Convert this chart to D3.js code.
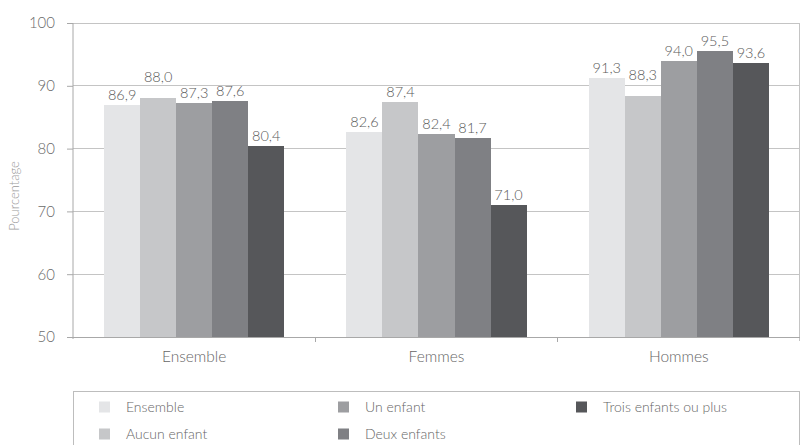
<!DOCTYPE html>
<html lang="fr">
<head>
<meta charset="utf-8">
<script src="https://cdn.jsdelivr.net/npm/d3@7"></script>
<style>
  html, body { margin: 0; padding: 0; background: #fff; }
  svg { display: block; font-family: Lato, "Open Sans", sans-serif; font-weight: 300; }
</style>
</head>
<body>
<svg id="chart" width="801" height="445"></svg>
<script>
// Catégories (groupes) et séries
const categories = ["Ensemble", "Femmes", "Hommes"];
const seriesNames = ["Ensemble", "Aucun enfant", "Un enfant", "Deux enfants", "Trois enfants ou plus"];

// Valeurs par série, dans l'ordre des catégories
const valEnsemble = [86.9, 82.6, 91.3];
const valAucun    = [88.0, 87.4, 88.3];
const valUn       = [87.3, 82.4, 94.0];
const valDeux     = [87.6, 81.7, 95.5];
const valTrois    = [80.4, 71.0, 93.6];
const seriesValues = [valEnsemble, valAucun, valUn, valDeux, valTrois];

const yTicks = [50, 60, 70, 80, 90, 100];
const yTitle = "Pourcentage";

// Étiquettes remontées pour éviter un chevauchement avec leurs voisines
const raisedLabels = [["Ensemble", "Aucun enfant"], ["Hommes", "Aucun enfant"]];

const colors = ["#e4e5e7", "#c6c7c9", "#9d9ea1", "#7f8084", "#56575a"];

const svg = d3.select("#chart");
const plot = { left: 73, right: 800, top: 23, bottom: 337 };

const x0 = d3.scaleBand().domain(categories).range([plot.left, plot.right]).padding(0);
const bw = x0.bandwidth();
const groupPad = bw * 0.1285;
const x1 = d3.scaleBand().domain(seriesNames).range([groupPad, bw - groupPad]).padding(0);
const y = d3.scaleLinear().domain([50, 100]).range([plot.bottom, plot.top]);
const color = d3.scaleOrdinal().domain(seriesNames).range(colors);

// Grille horizontale
svg.append("g")
  .selectAll("line")
  .data(yTicks.filter(t => t > 50))
  .join("line")
  .attr("x1", plot.left).attr("x2", plot.right)
  .attr("y1", d => y(d)).attr("y2", d => y(d))
  .attr("stroke", "#c4c4c4").attr("stroke-width", 1)
  .attr("shape-rendering", "crispEdges");

// Bord droit de la zone de tracé
svg.append("line")
  .attr("x1", plot.right - 1).attr("x2", plot.right - 1)
  .attr("y1", plot.top).attr("y2", plot.bottom + 4)
  .attr("stroke", "#c4c4c4").attr("shape-rendering", "crispEdges");

// Axe vertical
const yAxis = svg.append("g")
  .attr("transform", `translate(${plot.left},0)`)
  .call(d3.axisLeft(y).tickValues(yTicks).tickSize(6).tickPadding(12).tickFormat(d3.format("d")));
yAxis.select(".domain").attr("stroke", "#a8a8a8").attr("d", `M0,${plot.top}V${plot.bottom + 2}`);
yAxis.selectAll(".tick line").attr("stroke", "#a8a8a8");
yAxis.selectAll(".tick text")
  .attr("fill", "#6a6a6a").style("font-size", "15px")
  .style("font-family", "Lato, 'Open Sans', sans-serif").style("font-weight", 300)
  .attr("dy", "0.32em");

// Barres
const groups = svg.append("g")
  .selectAll("g")
  .data(categories)
  .join("g")
  .attr("transform", d => `translate(${x0(d)},0)`);

const cells = groups.selectAll("g.cell")
  .data((c, ci) => seriesNames.map((s, si) => ({ cat: c, series: s, value: seriesValues[si][ci] })))
  .join("g").attr("class", "cell");

cells.append("rect")
  .attr("x", d => x1(d.series))
  .attr("width", x1.bandwidth())
  .attr("y", d => y(d.value))
  .attr("height", d => y(50) - y(d.value))
  .attr("fill", d => color(d.series))
  .attr("shape-rendering", "crispEdges");

const fmt = v => d3.format(".1f")(v).replace(".", ",");
cells.append("text")
  .attr("x", d => x1(d.series) + x1.bandwidth() / 2)
  .attr("y", d => {
    const raised = raisedLabels.some(r => r[0] === d.cat && r[1] === d.series);
    return y(d.value) - 5 - (raised ? 11 : 0);
  })
  .attr("text-anchor", "middle")
  .attr("fill", "#5a5a5a")
  .style("font-size", "14.5px")
  .text(d => fmt(d.value));

// Axe horizontal
const xAxis = svg.append("g")
  .attr("transform", `translate(0,${plot.bottom})`);
xAxis.append("line")
  .attr("x1", plot.left).attr("x2", plot.right)
  .attr("stroke", "#a8a8a8").attr("shape-rendering", "crispEdges");
xAxis.selectAll("line.tick")
  .data(categories.slice(1).map(c => x0(c)))
  .join("line").attr("class", "tick")
  .attr("x1", d => d).attr("x2", d => d)
  .attr("y1", 0).attr("y2", 5)
  .attr("stroke", "#a8a8a8").attr("shape-rendering", "crispEdges");
xAxis.selectAll("text")
  .data(categories)
  .join("text")
  .attr("x", d => x0(d) + bw / 2)
  .attr("y", 25)
  .attr("text-anchor", "middle")
  .attr("fill", "#666")
  .style("font-size", "15.5px")
  .text(d => d);

// Titre de l'axe vertical
svg.append("text")
  .attr("transform", `translate(19,196) rotate(-90)`)
  .attr("text-anchor", "middle")
  .attr("fill", "#9a9a9a")
  .style("font-size", "13px")
  .text(yTitle);

// Légende
const legend = svg.append("g");
legend.append("rect")
  .attr("x", plot.left + 0.5).attr("y", 391.5)
  .attr("width", plot.right - plot.left - 1).attr("height", 60)
  .attr("fill", "none").attr("stroke", "#bdbdbd");

const colX = [99, 338, 576];
const rowY = [407, 434];
const legendPos = [[0, 0], [0, 1], [1, 0], [1, 1], [2, 0]];
const items = legend.selectAll("g.item")
  .data(seriesNames)
  .join("g").attr("class", "item")
  .attr("transform", (d, i) => `translate(${colX[legendPos[i][0]]},${rowY[legendPos[i][1]]})`);
items.append("rect")
  .attr("x", 0).attr("y", -5.5).attr("width", 11).attr("height", 11)
  .attr("fill", d => color(d));
items.append("text")
  .attr("x", 27).attr("y", 0).attr("dy", "0.35em")
  .attr("fill", "#666")
  .style("font-size", "14px")
  .text(d => d);
</script>
</body>
</html>
